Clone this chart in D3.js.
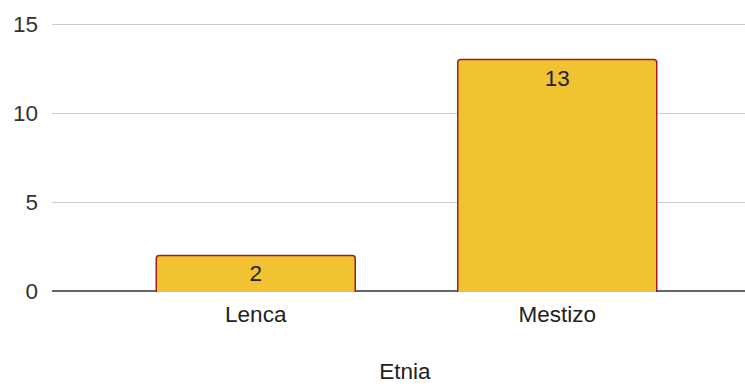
<!DOCTYPE html>
<html>
<head>
<meta charset="utf-8">
<script src="https://cdn.jsdelivr.net/npm/d3@7"></script>
<style>
  body { margin: 0; background: #fff; }
  text { font-family: Arial, "Liberation Sans", sans-serif; }
</style>
</head>
<body>
<div id="chart"></div>
<script>
// data
const categories = ['Lenca', 'Mestizo']
const counts = [2, 13]
const yTicks = [0, 5, 10, 15]
const axisTitle = 'Etnia'

const width = 745
const height = 387
const margin = { top: 24, right: 0, bottom: 96, left: 52 }
const fs = 22.5

const svg = d3.select('#chart').append('svg')
	.attr('width', width)
	.attr('height', height)

const y = d3.scaleLinear().domain([0, 15]).range([height - margin.bottom, margin.top])
const x = d3.scaleBand().domain(categories).range([105, 708])
	.paddingInner(0.34).paddingOuter(0.17)

// gridlines
svg.append('g').selectAll('line')
	.data(yTicks.filter(d => d !== 0))
	.enter().append('line')
	.attr('x1', margin.left).attr('x2', width)
	.attr('y1', d => Math.round(y(d)) + 0.5).attr('y2', d => Math.round(y(d)) + 0.5)
	.attr('stroke', '#cccccc')
	.attr('stroke-width', 1)

// y tick labels
svg.append('g').selectAll('text')
	.data(yTicks)
	.enter().append('text')
	.attr('x', 38)
	.attr('y', d => y(d) + 8)
	.attr('text-anchor', 'end')
	.attr('font-size', fs)
	.attr('fill', '#333')
	.text(d => d)

// baseline
svg.append('line')
	.attr('x1', margin.left).attr('x2', width)
	.attr('y1', y(0)).attr('y2', y(0))
	.attr('stroke', '#333')
	.attr('stroke-width', 1.5)

const data = categories.map((c, i) => ({ cat: c, value: counts[i] }))

// bars: rounded top corners, flat bottom
const r = 3
const bars = svg.append('g').selectAll('g')
	.data(data)
	.enter().append('g')

bars.append('path')
	.attr('d', d => {
		const x0 = x(d.cat), x1 = x(d.cat) + x.bandwidth()
		const y0 = y(d.value), yb = y(0) + 1
		return `M${x0},${yb} L${x0},${y0 + r} Q${x0},${y0} ${x0 + r},${y0} L${x1 - r},${y0} Q${x1},${y0} ${x1},${y0 + r} L${x1},${yb}`
	})
	.attr('fill', '#f1c232')
	.attr('stroke', '#a61c1c')
	.attr('stroke-width', 1.5)

bars.append('text')
	.attr('x', d => x(d.cat) + x.bandwidth() / 2)
	.attr('y', d => y(d.value) + 26)
	.attr('text-anchor', 'middle')
	.attr('font-size', fs)
	.attr('fill', '#222')
	.text(d => d.value)

// category labels
svg.append('g').selectAll('text')
	.data(categories)
	.enter().append('text')
	.attr('x', d => x(d) + x.bandwidth() / 2)
	.attr('y', 322)
	.attr('text-anchor', 'middle')
	.attr('font-size', fs)
	.attr('fill', '#222')
	.text(d => d)

svg.append('text')
	.attr('x', 405)
	.attr('y', 379)
	.attr('text-anchor', 'middle')
	.attr('font-size', fs)
	.attr('fill', '#222')
	.text(axisTitle)
</script>
</body>
</html>
